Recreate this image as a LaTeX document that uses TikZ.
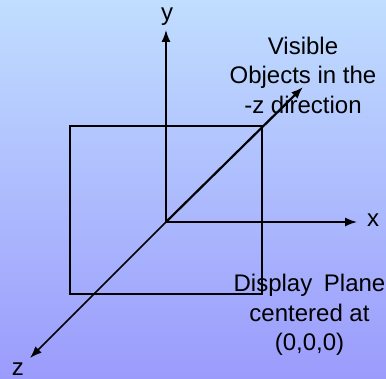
\documentclass[tikz,border=0pt]{standalone}
\usepackage{fontspec}
\setmainfont{Liberation Sans}
\usetikzlibrary{arrows.meta}
\definecolor{bgtop}{RGB}{192,222,255}
\definecolor{bgbot}{RGB}{155,155,252}
\tikzset{
  axis/.style={draw=black,line width=1.5pt,-{Latex[length=12pt,width=9pt]}},
  lbl/.style={inner sep=0pt,font=\fontsize{24}{29.5}\selectfont,align=center,text=black},
  plane/.style={draw=black,line width=1.5pt}
}
\begin{document}
\begin{tikzpicture}[x=1pt,y=-1pt]
\useasboundingbox (0,0) rectangle (386,379);
\shade[top color=bgtop,bottom color=bgbot] (0,0) rectangle (386,379);
\coordinate (o) at (166,222);
\coordinate (ytip) at (166,30);
\coordinate (xtip) at (357,222);
\coordinate (ztip) at (30,358);
\coordinate (mztip) at (303,87);
\coordinate (pa) at (70,126);
\coordinate (pb) at (262,294);
\draw[plane] (pa) rectangle (pb);
\draw[axis] (o) -- (ytip);
\draw[axis] (o) -- (xtip);
\draw[axis] (o) -- (ztip);
\draw[axis,line width=2.2pt] (o) -- (mztip);
\node[lbl] (ylab) at (167,16.5) {y};
\node[lbl] (xlab) at (373,220.5) {x};
\node[lbl] (zlab) at (18,369) {z};
\node[lbl] (vis) at (303,75) {Visible\\Objects in the\\-z direction};
\node[lbl] (dp) at (309.5,315) {Display\hspace{5pt} Plane\\centered at\\(0,0,0)};
\end{tikzpicture}
\end{document}
